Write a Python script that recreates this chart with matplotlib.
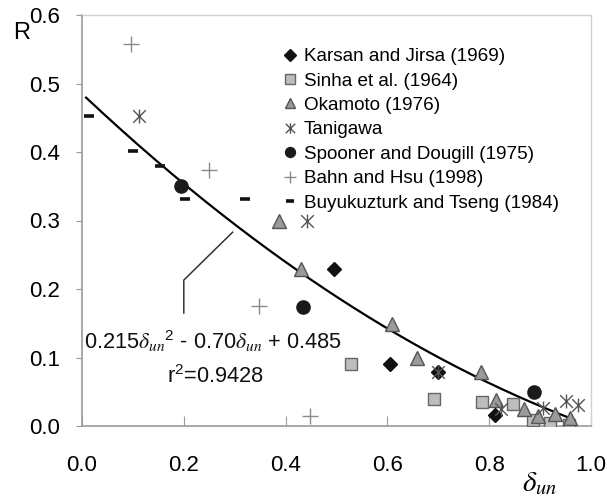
import numpy as np
import matplotlib
matplotlib.use("Agg")
import matplotlib.pyplot as plt
from matplotlib.path import Path

plt.rcParams['font.family'] = ['Liberation Sans', 'DejaVu Sans']
plt.rcParams['mathtext.fontset'] = 'stix'

# ---- data ----
karsan_x = [0.496, 0.605, 0.700, 0.811]
karsan_y = [0.229, 0.090, 0.079, 0.016]

sinha_x = [0.529, 0.692, 0.786, 0.846, 0.886, 0.919, 0.957]
sinha_y = [0.090, 0.040, 0.035, 0.032, 0.009, 0.005, 0.001]

okamoto_x = [0.388, 0.431, 0.610, 0.659, 0.784, 0.814, 0.869, 0.896, 0.930, 0.959]
okamoto_y = [0.299, 0.229, 0.149, 0.099, 0.079, 0.038, 0.025, 0.015, 0.017, 0.012]

tanigawa_x = [0.112, 0.443, 0.699, 0.824, 0.906, 0.951, 0.975]
tanigawa_y = [0.452, 0.300, 0.079, 0.025, 0.027, 0.036, 0.031]

spooner_x = [0.194, 0.435, 0.888]
spooner_y = [0.351, 0.174, 0.050]

bahn_x = [0.097, 0.249, 0.347, 0.447]
bahn_y = [0.557, 0.373, 0.175, 0.015]

buyuk_x = [0.014, 0.100, 0.154, 0.202, 0.321]
buyuk_y = [0.452, 0.401, 0.379, 0.331, 0.331]

fit_coef = [0.215, -0.70, 0.485]
fit_range = [0.008, 0.96]

xticks = [0.0, 0.2, 0.4, 0.6, 0.8, 1.0]
yticks = [0.0, 0.1, 0.2, 0.3, 0.4, 0.5, 0.6]

# ---- figure ----
W, H = 607, 503
fig = plt.figure(figsize=(W / 100, H / 100), dpi=100)
ax = fig.add_axes([82 / W, 1 - 426 / H, (591 - 82) / W, (426 - 15) / H])
ax.set_xlim(0, 1.0)
ax.set_ylim(0, 0.6)

star = Path([(-1, -1), (1, 1), (-1, 1), (1, -1), (0, -1.1), (0, 1.1)],
            [Path.MOVETO, Path.LINETO, Path.MOVETO, Path.LINETO, Path.MOVETO, Path.LINETO])

# fit curve
xf = np.linspace(fit_range[0], fit_range[1], 200)
yf = np.polyval(fit_coef, xf)
ax.plot(xf, yf, color='black', lw=1.6, zorder=2)

ax.plot(bahn_x, bahn_y, ls='none', marker='+', ms=11, mew=1.0, color='#8a8a8a',
        label='Bahn and Hsu (1998)', zorder=3)
ax.plot(buyuk_x, buyuk_y, ls='none', marker='_', ms=7, mew=2.6, color='#111111',
        label='Buyukuzturk and Tseng (1984)', zorder=3)
ax.plot(sinha_x, sinha_y, ls='none', marker='s', ms=9, mew=1.0, mfc='#bdbdbd', mec='#666666',
        label='Sinha et al. (1964)', zorder=4)
ax.plot(okamoto_x, okamoto_y, ls='none', marker='^', ms=10, mew=1.0, mfc='#9a9a9a', mec='#555555',
        label='Okamoto (1976)', zorder=5)
ax.plot(spooner_x, spooner_y, ls='none', marker='o', ms=9.5, color='#1a1a1a',
        label='Spooner and Dougill (1975)', zorder=5)
ax.plot(karsan_x, karsan_y, ls='none', marker='D', ms=7.5, color='#111111',
        label='Karsan and Jirsa (1969)', zorder=6)
ax.plot(tanigawa_x, tanigawa_y, ls='none', marker=star, ms=10, mew=1.0, color='#555555',
        label='Tanigawa', zorder=7)

# legend in the reference order
handles, labels = ax.get_legend_handles_labels()
order = ['Karsan and Jirsa (1969)', 'Sinha et al. (1964)', 'Okamoto (1976)', 'Tanigawa',
         'Spooner and Dougill (1975)', 'Bahn and Hsu (1998)', 'Buyukuzturk and Tseng (1984)']
hmap = dict(zip(labels, handles))
leg = ax.legend([hmap[o] for o in order], order, loc='upper left',
                bbox_to_anchor=(282 / W, 1 - 48 / H), bbox_transform=fig.transFigure,
                frameon=False, fontsize=13.6, handlelength=0.8, handletextpad=0.35,
                labelspacing=0.38, borderpad=0, borderaxespad=0, numpoints=1,
                markerscale=0.75)

# annotation pointer
ax.plot([0.2, 0.2, 0.296], [0.165, 0.213, 0.283], color='#333333', lw=1.1, zorder=2)
ax.text(0.257, 0.124, '0.215$\\delta_{un}\\mathregular{^2}$ - 0.70$\\delta_{un}$ + 0.485',
        fontsize=15.7, ha='center', va='center', color='#111111')
ax.text(0.262, 0.072, 'r$\\mathregular{^2}$=0.9428', fontsize=15.7, ha='center', va='center',
        color='#111111')

# axes styling
for s in ['left', 'bottom']:
    ax.spines[s].set_color('#9a9a9a')
    ax.spines[s].set_linewidth(1.2)
for s in ['top', 'right']:
    ax.spines[s].set_color('#d0d0d0')
    ax.spines[s].set_linewidth(1.0)

ax.set_xticks(xticks)
ax.set_yticks(yticks)
ax.set_xticklabels([f'{v:.1f}' for v in xticks])
ax.set_yticklabels([f'{v:.1f}' for v in yticks])
ax.tick_params(axis='x', direction='in', length=7, color='#9a9a9a', labelsize=16, pad=21)
ax.tick_params(axis='y', direction='out', length=4, color='#9a9a9a', labelsize=16, pad=12)

fig.text(22 / W, 1 - 33 / H, 'R', fontsize=17, ha='center', va='center')
fig.text(540 / W, 1 - 483 / H, '$\\delta_{un}$', fontsize=21, ha='center', va='center')

fig.savefig('out.png', dpi=100)
